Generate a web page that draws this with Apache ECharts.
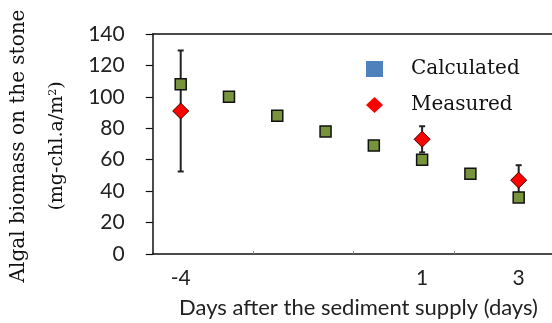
<!DOCTYPE html>
<html>
<head>
<meta charset="utf-8">
<script src="https://cdn.jsdelivr.net/npm/echarts@6/dist/echarts.min.js"></script>
<style>
  html, body { margin: 0; padding: 0; background: #fff; }
  #chart { width: 552px; height: 323px; }
</style>
</head>
<body>
<div id="chart"></div>
<script>
// Days relative to the sediment supply
const days = [-4, -3, -2, -1, 0, 1, 2, 3];
// Modelled algal biomass (mg-chl.a/m2)
const calculated = [108, 100, 88, 78, 69, 60, 51, 36];
// Field measurements with their error ranges
const measuredDays = [-4, 1, 3];
const measured = [91, 73, 47];
const measuredErr = [38.5, 8.3, 9.5];
// Axis labelling
const xLabelValues = [-4, 1, 3];
const xTickValues = [-2.5, -0.43, 1.66];
const yTicks = [0, 20, 40, 60, 80, 100, 120, 140];

const sans = 'Lato';
const serif = 'DejaVu Serif';

const chart = echarts.init(document.getElementById('chart'), null, { renderer: 'canvas' });

const errData = measuredDays.map((d, i) => [d, measured[i] - measuredErr[i], measured[i] + measuredErr[i]]);

chart.setOption({
  animation: false,
  backgroundColor: '#fff',
  grid: { left: 152.7, right: 0, top: 34, bottom: 69, containLabel: false },
  xAxis: [{
    type: 'value',
    min: -4.58,
    max: 3.69,
    splitLine: { show: false },
    axisLine: { show: true, onZero: false, lineStyle: { color: '#111', width: 1.5 } },
    axisTick: { show: true, inside: true, length: 3, customValues: xTickValues, lineStyle: { color: '#888', width: 1 } },
    axisLabel: { customValues: xLabelValues, margin: 14, fontFamily: sans, fontSize: 21, color: '#222' }
  }, {
    type: 'value',
    position: 'top',
    min: -4.58,
    max: 3.69,
    splitLine: { show: false },
    axisLine: { show: true, onZero: false, lineStyle: { color: '#111', width: 1.5 } },
    axisTick: { show: false },
    axisLabel: { show: false }
  }],
  yAxis: {
    type: 'value',
    position: 'left',
    min: yTicks[0],
    max: yTicks[yTicks.length - 1],
    interval: 20,
    splitLine: { show: false },
    axisLine: { show: true, onZero: false, lineStyle: { color: '#111', width: 1.5 } },
    axisTick: { show: true, length: 7, lineStyle: { color: '#111', width: 1.2 } },
    axisLabel: { margin: 28, fontFamily: sans, fontSize: 21, color: '#222' }
  },
  legend: {
    orient: 'vertical',
    left: 366,
    top: 58,
    padding: 0,
    itemWidth: 17,
    itemHeight: 16,
    itemGap: 14,
    selectedMode: false,
    textStyle: { fontFamily: serif, fontSize: 20, color: '#111', lineHeight: 22, padding: [0, 0, 0, 23] },
    data: [
      { name: 'Calculated', icon: 'rect', itemStyle: { color: '#4F81BD', borderWidth: 0 } },
      { name: 'Measured', icon: 'diamond', itemStyle: { color: '#FF0000', borderWidth: 0 } }
    ]
  },
  graphic: [
    {
      type: 'text', x: 19, y: 146, rotation: Math.PI / 2,
      style: { text: 'Algal biomass on the stone', font: '20px "' + serif + '"', fill: '#111', align: 'center', verticalAlign: 'middle' }
    },
    {
      type: 'text', x: 57, y: 146, rotation: Math.PI / 2,
      style: {
        text: '{t|(mg-chl.a/m}{s|2}{t|)}',
        align: 'center', verticalAlign: 'middle',
        rich: {
          t: { font: '19px "' + serif + '"', fill: '#111' },
          s: { font: '11px "' + serif + '"', fill: '#111', verticalAlign: 'top', padding: [0, 0, 8, 0] }
        }
      }
    },
    {
      type: 'text', x: 358.5, y: 308,
      style: { text: 'Days after the sediment supply (days)', font: '22px "' + sans + '"', fill: '#222', align: 'center', verticalAlign: 'middle' }
    }
  ],
  series: [
    {
      type: 'custom',
      name: 'errorbars',
      silent: true,
      encode: { x: 0, y: [1, 2] },
      data: errData,
      renderItem: function (params, api) {
        const x = api.value(0);
        const lo = api.coord([x, api.value(1)]);
        const hi = api.coord([x, api.value(2)]);
        const cap = 3;
        const st = { stroke: '#222', lineWidth: 2 };
        return {
          type: 'group',
          children: [
            { type: 'line', shape: { x1: lo[0], y1: lo[1], x2: hi[0], y2: hi[1] }, style: st },
            { type: 'line', shape: { x1: hi[0] - cap, y1: hi[1], x2: hi[0] + cap, y2: hi[1] }, style: st },
            { type: 'line', shape: { x1: lo[0] - cap, y1: lo[1], x2: lo[0] + cap, y2: lo[1] }, style: st }
          ]
        };
      }
    },
    {
      type: 'scatter',
      name: 'Calculated',
      symbol: 'rect',
      symbolSize: 11,
      itemStyle: { color: '#77933C', borderColor: '#111', borderWidth: 1.5, opacity: 1 },
      data: days.map((d, i) => [d, calculated[i]])
    },
    {
      type: 'scatter',
      name: 'Measured',
      symbol: 'diamond',
      symbolSize: 16,
      itemStyle: { color: '#FF0000', borderColor: '#400000', borderWidth: 1, opacity: 1 },
      data: measuredDays.map((d, i) => [d, measured[i]])
    }
  ]
});
</script>
</body>
</html>
